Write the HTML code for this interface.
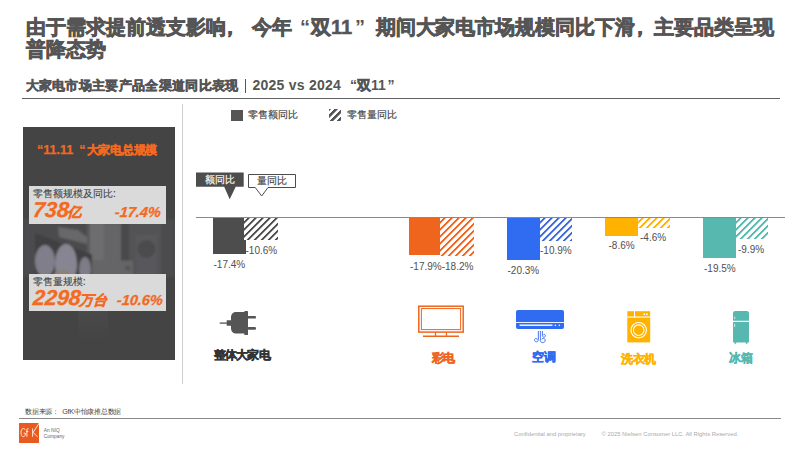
<!DOCTYPE html>
<html><head><meta charset="utf-8">
<style>
*{margin:0;padding:0;box-sizing:border-box}
html,body{width:800px;height:449px;background:#fff;overflow:hidden;font-family:"Liberation Sans",sans-serif;color:#555}
.a{position:absolute;white-space:nowrap}
.t{font-size:20px;font-weight:bold;line-height:24px;color:#555}
.s{font-size:14px;font-weight:bold;line-height:17px;color:#555}
.pt{color:#f26a1f;font-weight:bold}
.box{position:absolute;left:6px;width:137px;background:#dadada}
.bl{position:absolute;left:3.5px;font-size:10.4px;color:#444;line-height:12px;letter-spacing:0.05px;-webkit-text-stroke:0.1px #444}
.big{position:absolute;font-style:italic;font-weight:bold;color:#f26a1f;line-height:20px;-webkit-text-stroke:0.3px #f26a1f;transform:skewX(-5deg)}
.cj{display:inline-block;font-style:normal;transform:skewX(-13deg)}
.leg{font-size:10px;color:#444;line-height:12px;-webkit-text-stroke:0.15px currentColor}
.bar{position:absolute;top:218px}
.lbl{position:absolute;font-size:10px;color:#505050;line-height:11px}
.cat{position:absolute;font-size:11.5px;font-weight:bold;line-height:14px;letter-spacing:-0.5px;-webkit-text-stroke:0.45px currentColor}
.J{text-align:justify;text-align-last:justify}
.k7{-webkit-text-stroke:0.75px #555}
.k5{-webkit-text-stroke:0.5px #555}
.k4{-webkit-text-stroke:0.4px currentColor}
</style></head><body>
<div class="a t k7 J" style="width:265.6px;left:26px;top:15px">由于需求提前透支影响<span style="position:relative;left:-6px">，</span> 今年</div>
<div class="a t" style="left:300px;top:15px">“</div>
<div class="a t k7" style="left:310.5px;top:15px">双</div>
<div class="a t" style="left:331px;top:15px;-webkit-text-stroke:0.5px #555">11</div>
<div class="a t" style="left:355px;top:15px">”</div>
<div class="a t k7 J" style="width:398px;left:375.8px;top:15px;letter-spacing:-0.1px">期间大家电市场规模同比下滑<span style="position:relative;left:-5px">，</span>主要品类呈现</div>
<div class="a t k7 J" style="width:80px;left:26px;top:36.5px">普降态势</div>

<div class="a s k5 J" style="width:213.3px;left:25.5px;top:77.3px;font-size:13.4px;letter-spacing:0.33px">大家电市场主要产品全渠道同比表现</div>
<div class="a" style="left:244.6px;top:79.2px;width:1.4px;height:13.4px;background:#555"></div>
<div class="a s" style="left:252.5px;top:77px;letter-spacing:0.25px">2025 vs 2024</div>
<div class="a s" style="left:350px;top:77px">“</div>
<div class="a s k5" style="left:356.5px;top:77px">双</div>
<div class="a s" style="left:371px;top:77px">11</div>
<div class="a s" style="left:387.5px;top:77px">”</div>

<div class="a" style="left:22px;top:97.9px;width:758px;height:1.3px;background:#626262"></div>
<div class="a" style="left:182.3px;top:104px;width:1.2px;height:280px;background:#cfcfcf"></div>

<div class="a" id="panel" style="left:23px;top:127px;width:151.7px;height:232.7px;background:#444;overflow:hidden">
  <svg class="a" style="left:0;top:0" width="152" height="233" viewBox="0 0 152 233">
    <defs><filter id="bl" x="-10%" y="-10%" width="120%" height="120%"><feGaussianBlur stdDeviation="1"/></filter></defs>
    <g filter="url(#bl)">
      <rect x="0" y="92" width="152" height="58" fill="#4b4b4d"/>
      <rect x="64" y="92" width="44" height="58" fill="#5a5a5c"/>
      <rect x="67" y="96" width="14" height="40" fill="#6d6d70"/>
      <rect x="81" y="96" width="17" height="40" fill="#656567"/>
      <rect x="98" y="92" width="8" height="58" fill="#4a4a4c"/>
      <rect x="106" y="92" width="32" height="58" fill="#525254"/>
      <rect x="113" y="108" width="21" height="40" fill="#59595b"/>
      <circle cx="123.5" cy="122" r="9" fill="#4c4c4e"/>
      <polygon points="35,100 55,103 64,110 64,117 36,110" fill="#68686a"/>
      <polygon points="12,106 69,127.5 69,150 12,150" fill="#414143"/>
      <ellipse cx="22" cy="134" rx="10" ry="16" fill="#7f7e8a"/>
      <ellipse cx="43" cy="137" rx="11" ry="20" fill="#878592"/>
      <ellipse cx="62" cy="142" rx="6" ry="12" fill="#7e7c87"/>
      <ellipse cx="40" cy="147" rx="9" ry="4" fill="#8e8077"/>
      <rect x="69" y="133.5" width="41" height="16" fill="#656567"/>
      <circle cx="104.7" cy="141.3" r="2.5" fill="#545456"/>
    </g>
  </svg>
  <div class="a" style="left:55px;top:184px;width:30px;height:30px;background:linear-gradient(180deg,rgba(255,255,255,0.03),rgba(255,255,255,0))"></div>
  <div class="a pt" style="left:14px;top:15.5px;font-size:12.5px;line-height:14px;-webkit-text-stroke:0.25px #f26a1f">“11.11</div>
  <div class="a pt" style="left:56.3px;top:15.5px;font-size:12.5px;line-height:14px;-webkit-text-stroke:0.25px #f26a1f">“</div>
  <div class="a pt k4 J" style="width:70.5px;left:63.5px;top:15.5px;font-size:11.8px;line-height:14px;letter-spacing:-0.25px">大家电总规模</div>
  <div class="box" style="top:59px;height:38px">
    <div class="bl J" style="width:83.4px;top:2px">零售额规模及同比:</div>
    <div class="big" style="left:4px;top:14px;font-size:21.5px">738<span class="cj k4" style="font-size:14px">亿</span></div>
    <div class="big" style="left:86px;top:16px;font-size:14.5px">-17.4%</div>
  </div>
  <div class="box" style="top:147px;height:37px">
    <div class="bl J" style="width:53.2px;top:2px">零售量规模:</div>
    <div class="big" style="left:4px;top:14px;font-size:21.5px">2298<span class="cj k4" style="font-size:14px">万台</span></div>
    <div class="big" style="left:88px;top:16px;font-size:14.5px">-10.6%</div>
  </div>
</div>

<!-- legend -->
<div class="a" style="left:230.5px;top:109.5px;width:12px;height:11px;background:#555"></div>
<div class="a leg J" style="width:50px;left:248px;top:109px">零售额同比</div>
<div class="a" style="left:329px;top:109px;width:12px;height:12px;background:repeating-linear-gradient(135deg,#555 0 1.2px,#fff 1.8px 3.6px,#555 4.2px 4.95px)"></div>
<div class="a leg J" style="width:50px;left:346.5px;top:109px">零售量同比</div>

<!-- callouts -->
<svg class="a" style="left:196px;top:172px" width="50" height="28" viewBox="0 0 50 28"><path d="M0 0.5H47.7V14.8H39.7L33.7 27.2L28.2 14.8H0Z" fill="#4d4d4d"/></svg>
<div class="a leg J" style="width:30px;left:205px;top:173.5px;color:#fff">额同比</div>
<svg class="a" style="left:247px;top:173px" width="50" height="25" viewBox="0 0 50 25"><path d="M1.5 1.5H48.5V14.5H21L14.7 23L8.2 14.5H1.5Z" fill="#fff" stroke="#4d4d4d" stroke-width="1"/></svg>
<div class="a leg J" style="width:30px;left:256.5px;top:174.5px">量同比</div>

<!-- axis -->
<div class="a" style="left:196px;top:217px;width:589px;height:1.2px;background:#8a8a8a"></div>

<!-- bars -->
<div class="bar" style="left:213.3px;width:32.7px;height:36px;background:#4d4d4d"></div>
<div class="bar" style="left:243.7px;width:34.3px;height:21.9px;background:repeating-linear-gradient(135deg,#fff 0 2.05px,#4d4d4d 2.65px 3.95px,#fff 4.55px 4.95px)"></div>
<div class="lbl" style="left:213.5px;top:258.7px">-17.4%</div>
<div class="lbl" style="left:245.5px;top:245px">-10.6%</div>

<div class="bar" style="left:409px;width:31.2px;height:37.1px;background:#f0651d"></div>
<div class="bar" style="left:440.2px;width:33.9px;height:37.7px;background:repeating-linear-gradient(135deg,#fff 0 2.05px,#f0651d 2.65px 3.95px,#fff 4.55px 4.95px)"></div>
<div class="lbl" style="left:410px;top:261px">-17.9%-18.2%</div>

<div class="bar" style="left:507px;width:33.2px;height:42px;background:#2f6cf2"></div>
<div class="bar" style="left:540.2px;width:31.7px;height:22.6px;background:repeating-linear-gradient(135deg,#fff 0 2.05px,#3d6ad6 2.65px 3.95px,#fff 4.55px 4.95px)"></div>
<div class="lbl" style="left:507.5px;top:265.4px">-20.3%</div>
<div class="lbl" style="left:540px;top:245px">-10.9%</div>

<div class="bar" style="left:604.8px;width:33.6px;height:17.8px;background:#ffb300"></div>
<div class="bar" style="left:638.4px;width:31.4px;height:9.5px;background:repeating-linear-gradient(135deg,#fff 0 2.05px,#ffb300 2.65px 3.95px,#fff 4.55px 4.95px)"></div>
<div class="lbl" style="left:608.5px;top:240.3px">-8.6%</div>
<div class="lbl" style="left:640px;top:232px">-4.6%</div>

<div class="bar" style="left:703px;width:33.3px;height:40.4px;background:#56b8af"></div>
<div class="bar" style="left:736.3px;width:31.8px;height:20.5px;background:repeating-linear-gradient(135deg,#fff 0 2.05px,#56b8af 2.65px 3.95px,#fff 4.55px 4.95px)"></div>
<div class="lbl" style="left:704px;top:263.2px">-19.5%</div>
<div class="lbl" style="left:738px;top:243.7px">-9.9%</div>

<!-- icons -->
<svg class="a" style="left:218px;top:309px" width="42" height="30" viewBox="0 0 42 30">
  <path d="M1.7 14.1H9.5" stroke="#555" stroke-width="1.3"/>
  <path d="M8.7 11.2H13V8.5C13 5 15 3 18.5 3H26.3V2.6C26.3 2.2 26.6 1.9 27 1.9H29.3C29.7 1.9 30 2.2 30 2.6V25.4C30 25.8 29.7 26.1 29.3 26.1H27C26.6 26.1 26.3 25.8 26.3 25.4V24.5H18.5C15 24.5 13 22.5 13 19V16.7H8.7Z" fill="#555"/>
  <rect x="29.5" y="7" width="8.5" height="2.6" rx="1.2" fill="#555"/>
  <rect x="29.5" y="18.1" width="8.5" height="2.6" rx="1.2" fill="#555"/>
</svg>
<div class="cat J" style="width:56.5px;left:213.5px;top:348.3px;color:#333;letter-spacing:-0.7px">整体大家电</div>

<svg class="a" style="left:417px;top:304px" width="48" height="34" viewBox="0 0 48 34">
  <rect x="1.8" y="2.2" width="44.4" height="25.9" fill="none" stroke="#f0651d" stroke-width="1.5"/>
  <rect x="4.4" y="4.6" width="39.2" height="21" fill="none" stroke="#f0651d" stroke-width="1"/>
  <path d="M18.5 28V32M29.5 28V32" stroke="#f0651d" stroke-width="1.2"/>
  <path d="M6 32.3H42" stroke="#f0651d" stroke-width="1.4"/>
</svg>
<div class="cat J" style="width:23px;left:431.5px;top:350.8px;color:#f0651d">彩电</div>

<svg class="a" style="left:515px;top:309px" width="50" height="36" viewBox="0 0 50 36">
  <rect x="1" y="1" width="48" height="19" rx="2" fill="#2f6cf2"/>
  <rect x="1" y="13" width="48" height="0.9" fill="#fff"/>
  <rect x="4.5" y="15.5" width="33" height="1.4" fill="#fff"/>
  <circle cx="40.3" cy="16.2" r="0.8" fill="#fff"/>
  <circle cx="44.3" cy="16.2" r="0.8" fill="#fff"/>
  <path d="M23.35 22V30.6C23.35 32 22.6 32.8 21.5 32.8C20.3 32.8 19.5 32 19.5 31C19.5 30 20.3 29.4 21.2 29.5C21.9 29.6 22.4 30.1 22.4 30.8M25.35 22V31.3C25.35 32.9 26.4 33.7 27.8 33.6C29.3 33.5 30.3 32.5 30.2 31.2C30.1 30 29.2 29.3 28.2 29.3C27.4 29.3 26.9 29.8 26.9 30.4M27.4 22V26.8C27.6 27.9 28.6 28.5 29.5 28.1C30.5 27.7 30.7 26.5 30 25.8C29.4 25.2 28.5 25.5 28.2 26.2" stroke="#3366ee" stroke-width="0.9" fill="none"/>
</svg>
<div class="cat J" style="width:23px;left:532.3px;top:350.3px;color:#2f6cf2">空调</div>

<svg class="a" style="left:626px;top:310px" width="26" height="34" viewBox="0 0 26 34">
  <rect x="1.3" y="1.2" width="6.7" height="5.3" fill="#ffb300"/>
  <rect x="9" y="1.2" width="15.2" height="5.3" fill="#ffb300"/>
  <circle cx="18.3" cy="4.2" r="0.95" fill="#fff"/>
  <circle cx="20.9" cy="4.2" r="0.95" fill="#fff"/>
  <rect x="1.3" y="7.6" width="22.9" height="24.8" fill="#ffb300"/>
  <circle cx="12.7" cy="20.2" r="7.7" fill="none" stroke="#fff" stroke-width="1.1"/>
  <circle cx="12.7" cy="20.2" r="5.3" fill="none" stroke="#fff" stroke-width="1.1"/>
</svg>
<div class="cat J" style="width:34.5px;left:621.3px;top:352px;color:#ffb300">洗衣机</div>

<svg class="a" style="left:732px;top:310px" width="18" height="35" viewBox="0 0 18 35">
  <path d="M1 3.3C1 1.9 1.9 1 3.3 1H14.7C16.1 1 17 1.9 17 3.3V10.7H1Z" fill="#56b8af"/>
  <path d="M1 12H17V31.5C17 32.2 16.6 32.6 15.9 32.6H2.1C1.4 32.6 1 32.2 1 31.5Z" fill="#56b8af"/>
  <rect x="2.6" y="32" width="1.6" height="1.8" fill="#56b8af"/>
  <rect x="13.8" y="32" width="1.6" height="1.8" fill="#56b8af"/>
  <path d="M2.7 6.6V9.1M2.7 13.7V17" stroke="#d8efec" stroke-width="0.9"/>
</svg>
<div class="cat J" style="width:23px;left:729.3px;top:351px;color:#56b8af">冰箱</div>

<!-- footer -->
<div class="a J" style="width:96.2px;left:25px;top:407px;font-size:7.2px;color:#444;line-height:9px;letter-spacing:-0.25px">数据来源：&nbsp; GfK中怡康推总数据</div>
<div class="a" style="left:19px;top:417.7px;width:762px;height:1.4px;background:#888"></div>
<div class="a" style="left:19px;top:423px;width:20.4px;height:19.8px;background:#e85a1e"></div>
<svg class="a" style="left:19px;top:422px" width="22" height="22" viewBox="0 0 22 22"><g stroke="#fff" stroke-width="0.85" fill="none"><path d="M6.2 7.9C5.8 6.9 5.1 6.5 4.3 6.5C2.9 6.5 2 8.3 2 10.6C2 12.9 2.9 14.7 4.3 14.7C5.6 14.7 6.4 13.4 6.4 11.2H4.6"/><path d="M9.6 6.7C8.6 6.4 7.9 6.9 7.9 8V14.75M6.9 9.3H9.4"/><path d="M13.6 6.5V14.75M20.4 0.9L14.1 10.4L18.6 14.75"/></g></svg>
<div class="a" style="left:43.8px;top:427.8px;font-size:4.85px;color:#666;line-height:5.9px">An NIQ<br>Company</div>
<div class="a" style="left:514px;top:430px;font-size:5.85px;color:#aaa;line-height:8px">Confidential and proprietary</div>
<div class="a" style="left:601.5px;top:430px;font-size:5.85px;color:#aaa;line-height:8px">© 2025 Nielsen Consumer LLC. All Rights Reserved.</div>
</body></html>
